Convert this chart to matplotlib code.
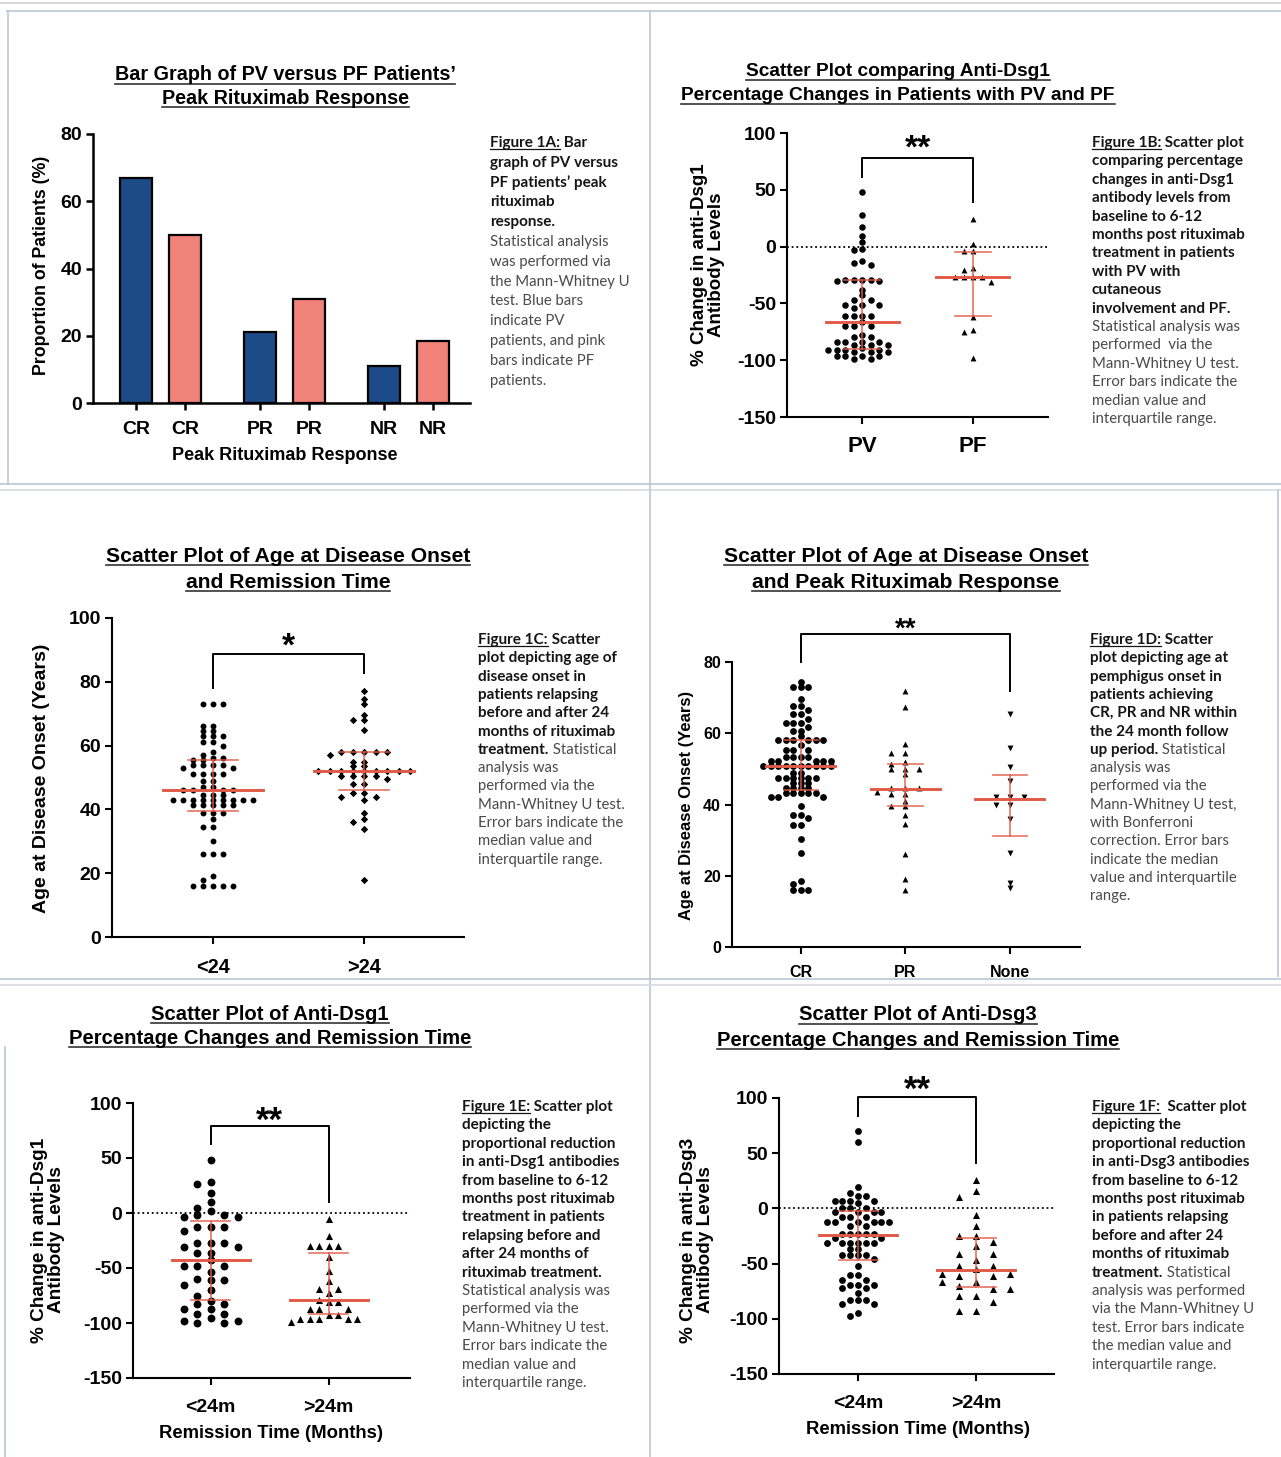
import numpy as np
import matplotlib
matplotlib.use('Agg')
import matplotlib.pyplot as plt
from matplotlib.lines import Line2D
from matplotlib import font_manager as fm

plt.rcParams['font.family'] = ['Liberation Sans', 'DejaVu Sans']
plt.rcParams['axes.unicode_minus'] = False

W, H = 1281, 1457

# ---------------- data ----------------
# 1A bar graph
resp_labels = ['CR', 'CR', 'PR', 'PR', 'NR', 'NR']
resp_pct = [67, 50, 21, 31, 11, 18.5]
resp_colors = ['#1d4b87', '#f08279', '#1d4b87', '#f08279', '#1d4b87', '#f08279']

# 1B anti-Dsg1 % change, PV vs PF
b_cats = ['PV', 'PF']
b_pv = [48, 28, 17, 9, 4, -2, -3, -13, -14, -16, -29, -29, -29, -29, -30, -30, -38, -43,
        -47, -47, -51, -51, -51, -54, -61, -61, -61, -61, -66, -70, -70, -70, -78, -80, -80,
        -84, -84, -84, -84, -87, -87, -87, -89, -91, -91, -91, -91, -93, -93, -93, -96, -96,
        -96, -96, -99, -99]
b_pf = [24, 2, -4, -4, -19, -21, -27, -27, -27, -27, -31, -62, -73, -75, -98]
b_med = [-66, -27]
b_q1 = [-90, -61]
b_q3 = [-29, -5]

# 1C age at onset vs remission time
c_cats = ['<24', '>24']
c_lt24 = [73, 73, 73, 66, 66, 64.5, 64.5, 63, 63, 63, 61, 61, 60, 58, 57, 56, 56, 55.5, 55.5,
          54, 54, 54, 54, 53, 53, 51, 51, 51, 51, 49, 49, 47, 47, 46, 46, 46, 46, 44.5, 44.5,
          44.5, 43, 43, 43, 43, 43, 43, 43, 43, 43, 41.5, 41.5, 41.5, 41.5, 41.5, 39, 39, 39,
          37, 34.5, 34.5, 30, 26, 26, 26, 19, 18, 16, 16, 16, 16, 16]
c_gt24 = [77, 74.5, 73, 69.5, 68, 68, 65, 58, 58, 58, 58, 58, 57, 55, 55, 53.5, 53.5, 52, 52,
          52, 52, 52, 52, 52, 52, 52, 50.5, 50.5, 50.5, 50.5, 49.5, 48, 48, 45, 45, 44, 44, 43,
          39, 37, 36, 34, 18]
c_med = [46, 52]
c_q1 = [39.5, 46]
c_q3 = [55.5, 58]

# 1D age at onset vs peak rituximab response
d_cats = ['CR', 'PR', 'None']
d_cr = [74.4, 73, 73, 73, 69.7, 67.6, 67.6, 66.4, 65.3, 65.3, 64.1, 62.9, 62.9, 62.9, 61.8,
        60.5, 60.5, 59.1, 58, 58, 58, 58, 58, 58, 56.6, 55.4, 55.4, 55.4, 53.3, 53.3, 53.3,
        53.3, 52.1, 52.1, 52.1, 52.1, 52.1, 50.7, 50.7, 50.7, 50.7, 50.7, 50.7, 50.7, 50.7,
        50.7, 50.7, 48.8, 48.8, 47.3, 47.3, 47.3, 47.3, 47.3, 47.3, 45.9, 45.9, 45.9, 44.5,
        44.5, 44.5, 44.5, 43.1, 43.1, 43.1, 43.1, 43.1, 42.1, 42.1, 42.1, 39.5, 37, 37, 36.1,
        34.2, 34.2, 30.4, 26.4, 18.5, 17.8, 15.9, 15.9, 15.9]
d_pr = [72, 67.5, 57, 54.5, 54.5, 52, 51.5, 50, 50, 50, 48.5, 44.5, 44.5, 44.5, 43.5, 43, 43,
        41, 39.5, 39.5, 37, 34.5, 26, 19, 16]
d_none = [65.5, 56, 50.5, 46.5, 42, 42, 42, 40, 40, 36, 26.5, 18, 16.5]
d_med = [50.7, 44.3, 41.6]
d_q1 = [44.2, 39.5, 31.2]
d_q3 = [58, 51.5, 48.3]

# 1E anti-Dsg1 % change vs remission time
e_cats = ['<24m', '>24m']
e_lt = [48, 28, 26, 18, 10, 5, 2, -2, -2, -4, -4, -13, -13, -13, -16, -27, -27, -27, -31, -31,
        -36, -36, -43, -48, -48, -48, -54, -60, -61, -61, -65, -70, -75, -80, -83, -83, -87,
        -87, -92, -92, -95, -98, -98, -100, -100]
e_gt = [-5, -21, -30, -30, -30, -30, -40, -53, -62, -69, -69, -73, -79, -81, -81, -87, -87,
        -87, -93, -93, -96, -96, -96, -96, -96, -99]
e_med = [-43, -79.5]
e_q1 = [-79, -92]
e_q3 = [-7.6, -36.6]

# 1F anti-Dsg3 % change vs remission time
f_cats = ['<24m', '>24m']
f_lt = [70.5, 60.5, 19, 14, 11, 11, 7, 7, 7, 7, 5, 0, 0, 0, -3, -3, -3, -3, -8, -8, -8, -12,
        -12, -12, -12, -12, -12, -16, -16, -23, -23, -23, -23, -23, -26.5, -26.5, -31, -31,
        -31, -31, -31, -31, -36.5, -36.5, -42.5, -42.5, -42.5, -42.5, -45.5, -52.5, -60.5,
        -60.5, -64.5, -64.5, -69, -69, -69, -72.5, -72.5, -77, -83, -83, -83, -87, -87, -95,
        -97.5]
f_gt = [26, 16, 10, -6, -16, -25, -25, -30, -34, -41, -41, -47, -52, -52, -55, -59, -59, -61,
        -61, -67, -67, -70, -73, -73, -79, -79, -85, -93, -93]
f_med = [-24, -56]
f_q1 = [-47, -71]
f_q3 = [-2, -27]

RED = '#e05a47'
FRAME = '#b9c8d6'

names = {f.name for f in fm.fontManager.ttflist}
CAP_FONT = ['Lato', 'DejaVu Sans'] if 'Lato' in names else ['DejaVu Sans']

fig = plt.figure(figsize=(W / 100, H / 100), dpi=100)
fig.patch.set_facecolor('white')
renderer = fig.canvas.get_renderer()


def make_ax(x0, x1, y0, y1):
    # pixel box: left, right, top, bottom
    return fig.add_axes([x0 / W, 1 - y1 / H, (x1 - x0) / W, (y1 - y0) / H])


def style_ax(ax, size, xsize, xpad, lw=1.5):
    ax.spines['top'].set_visible(False)
    ax.spines['right'].set_visible(False)
    ax.spines['left'].set_linewidth(lw)
    ax.spines['bottom'].set_linewidth(lw)
    ax.tick_params(width=lw, length=5, labelsize=size, pad=3)
    ax.tick_params(axis='x', labelsize=xsize, pad=xpad)
    plt.setp(ax.get_xticklabels() + ax.get_yticklabels(), fontweight='bold')
    ax.patch.set_alpha(0)


def underline_text(x, y, s, size, ha='center'):
    t = fig.text(x / W, 1 - y / H, s, ha=ha, va='center', fontsize=size, fontweight='bold')
    bb = t.get_window_extent(renderer)
    fig.add_artist(Line2D([bb.x0 / W, bb.x1 / W], [(bb.y0 + 1) / H] * 2, color='#333', lw=1.2))
    return t


def title(x, y1, y2, l1, l2, size):
    underline_text(x, y1, l1, size)
    underline_text(x, y2, l2, size)


def caption(x, y0, dy, lines, bsize=11.0, nsize=10.7):
    for i, segs in enumerate(lines):
        cx = x
        y = y0 + i * dy
        for s, st in segs:
            t = fig.text(cx / W, 1 - y / H, s, ha='left', va='center',
                         fontsize=nsize if st == 'n' else bsize,
                         family=CAP_FONT, fontweight='normal' if st == 'n' else 'bold',
                         color='#4a4a4a' if st == 'n' else '#151515')
            bb = t.get_window_extent(renderer)
            if st == 'u':
                fig.add_artist(Line2D([bb.x0 / W, bb.x1 / W], [(bb.y0 + 1.5) / H] * 2,
                                      color='#151515', lw=0.9))
            cx = cx + bb.width


def swarm_x(ax, xc, vals, gx, gy):
    vals = np.asarray(vals, float)
    ypx = ax.transData.transform(np.column_stack([np.zeros(len(vals)), vals]))[:, 1]
    ppu = ax.transData.transform((1, 0))[0] - ax.transData.transform((0, 0))[0]
    cands = sorted(np.arange(-14, 15) * gx / 2, key=lambda v: (abs(v), v))
    placed = []
    offs = np.zeros(len(vals))
    for i in np.argsort(-ypx, kind='stable'):
        for c in cands:
            if all(abs(c - px) >= gx - 1e-6 or abs(ypx[i] - py) >= gy for px, py in placed):
                break
        placed.append((c, ypx[i]))
        offs[i] = c
    return xc + offs / ppu


def points(ax, xc, vals, gx, gy, marker, s):
    xs = swarm_x(ax, xc, vals, gx, gy)
    ax.scatter(xs, vals, s=s, marker=marker, c='black', linewidths=0, zorder=3)


def iqr(ax, xs, med, q1, q3):
    for x, m, a, b in zip(xs, med, q1, q3):
        ax.plot([x - 0.33, x + 0.33], [m, m], color=RED, lw=2.1, zorder=5)
        ax.plot([x - 0.165, x + 0.165], [a, a], color=RED, lw=1.2, zorder=5, alpha=0.85)
        ax.plot([x - 0.165, x + 0.165], [b, b], color=RED, lw=1.2, zorder=5, alpha=0.85)
        ax.plot([x, x], [a, b], color=RED, lw=1.2, zorder=5, alpha=0.85)


def bracket(ax, x0, x1, top, lend, rend, star, starc, size):
    ax.plot([x0, x0, x1, x1], [lend, top, top, rend], color='black', lw=1.4, clip_on=False)
    # place the asterisks so that their visual centre sits at starc
    ppu = ax.transData.transform((0, 1))[1] - ax.transData.transform((0, 0))[1]
    base = starc - 0.57 * size * 100 / 72 / ppu
    ax.text((x0 + x1) / 2, base, star, ha='center', va='baseline', fontsize=size,
            fontweight='bold', clip_on=False)


def zero_line(ax):
    ax.axhline(0, color='black', lw=1.3, ls=(0, (1, 1.6)), zorder=1)


def label(x, y, s, size, rot=0):
    fig.text(x / W, 1 - y / H, s, ha='center', va='center', rotation=rot, fontsize=size,
             fontweight='bold', linespacing=1.05)


# ---------------- panel frames ----------------
def hline(y, x0, x1, c=FRAME, lw=1.2):
    fig.add_artist(Line2D([x0 / W, x1 / W], [1 - y / H] * 2, color=c, lw=lw))


def vline(x, y0, y1, c=FRAME, lw=1.2):
    fig.add_artist(Line2D([x / W] * 2, [1 - y0 / H, 1 - y1 / H], color=c, lw=lw))


hline(3, 0, W, c='#cfcfcf')
hline(11, 7, W)
vline(8, 11, 484)
hline(484, 0, W)
hline(490, 0, W, c='#d4dbe2')
vline(650, 11, H)
vline(1278, 490, 976)
hline(979, 0, W)
hline(985, 0, W, c='#d4dbe2')
vline(5, 1047, H)

# ---------------- 1A ----------------
ax = make_ax(93, 470, 134, 403)
bx = [(i // 2) * 2.53 + (i % 2) for i in range(len(resp_pct))]
ax.bar(bx, resp_pct, width=0.65, color=resp_colors, edgecolor='black', linewidth=1.6, zorder=2)
ax.set_xlim(-0.88, 6.82)
ax.set_ylim(0, 80)
ax.set_yticks([0, 20, 40, 60, 80])
ax.set_xticks(bx)
ax.set_xticklabels(resp_labels)
style_ax(ax, 14, 14, 8, lw=1.8)
title(285, 75, 98, 'Bar Graph of PV versus PF Patients\u2019', 'Peak Rituximab Response', 14.2)
label(285, 455, 'Peak Rituximab Response', 13)
label(42, 265, 'Proportion of Patients (%)', 12.8, rot=90)
caption(490, 143, 19.8, [
    [('Figure 1A:', 'u'), (' Bar', 'b')],
    [('graph of PV versus', 'b')],
    [('PF patients\u2019 peak', 'b')],
    [('rituximab', 'b')],
    [('response.', 'b')],
    [('Statistical analysis', 'n')],
    [('was performed via', 'n')],
    [('the Mann-Whitney U', 'n')],
    [('test. Blue bars', 'n')],
    [('indicate PV', 'n')],
    [('patients, and pink', 'n')],
    [('bars indicate PF', 'n')],
    [('patients.', 'n')],
])

# ---------------- 1B ----------------
ax = make_ax(787, 1048, 133, 417)
ax.set_xlim(-0.68, 1.68)
ax.set_ylim(-150, 100)
ax.set_yticks([-150, -100, -50, 0, 50, 100])
ax.set_xticks([0, 1])
ax.set_xticklabels(b_cats)
style_ax(ax, 14, 16, 9)
zero_line(ax)
points(ax, 0, b_pv, 8.5, 5.5, 'o', 22)
points(ax, 1, b_pf, 9, 6, '^', 18)
iqr(ax, [0, 1], b_med, b_q1, b_q3)
bracket(ax, 0, 1, 78, 61, 39, '**', 95, 24)
title(898, 72, 96, 'Scatter Plot comparing Anti-Dsg1',
      'Percentage Changes in Patients with PV and PF', 13.8)
label(708, 265, '% Change in anti-Dsg1\nAntibody Levels', 13.5, rot=90)
caption(1092, 143, 18.4, [
    [('Figure 1B:', 'u'), (' Scatter plot', 'b')],
    [('comparing percentage', 'b')],
    [('changes in anti-Dsg1', 'b')],
    [('antibody levels from', 'b')],
    [('baseline to 6-12', 'b')],
    [('months post rituximab', 'b')],
    [('treatment in patients', 'b')],
    [('with PV with', 'b')],
    [('cutaneous', 'b')],
    [('involvement and PF.', 'b')],
    [('Statistical analysis was', 'n')],
    [('performed  via the', 'n')],
    [('Mann-Whitney U test.', 'n')],
    [('Error bars indicate the', 'n')],
    [('median value and', 'n')],
    [('interquartile range.', 'n')],
])

# ---------------- 1C ----------------
ax = make_ax(112, 464, 618, 937)
ax.set_xlim(-0.67, 1.66)
ax.set_ylim(0, 100)
ax.set_yticks([0, 20, 40, 60, 80, 100])
ax.set_xticks([0, 1])
ax.set_xticklabels(c_cats)
style_ax(ax, 14, 14.3, 10)
points(ax, 0, c_lt24, 10, 4.6, 'o', 18)
points(ax, 1, c_gt24, 11.5, 4.5, 'D', 14)
iqr(ax, [0, 1], c_med, c_q1, c_q3)
bracket(ax, 0, 1, 88.6, 78, 82.8, '*', 94.3, 24)
title(288, 557, 582, 'Scatter Plot of Age at Disease Onset', 'and Remission Time', 15.2)
label(42, 778, 'Age at Disease Onset (Years)', 14, rot=90)
caption(478, 640, 18.3, [
    [('Figure 1C:', 'u'), (' Scatter', 'b')],
    [('plot depicting age of', 'b')],
    [('disease onset in', 'b')],
    [('patients relapsing', 'b')],
    [('before and after 24', 'b')],
    [('months of rituximab', 'b')],
    [('treatment.', 'b'), (' Statistical', 'n')],
    [('analysis was', 'n')],
    [('performed via the', 'n')],
    [('Mann-Whitney U test.', 'n')],
    [('Error bars indicate the', 'n')],
    [('median value and', 'n')],
    [('interquartile range.', 'n')],
])

# ---------------- 1D ----------------
ax = make_ax(732, 1080, 662, 947)
ax.set_xlim(-0.66, 2.67)
ax.set_ylim(0, 80)
ax.set_yticks([0, 20, 40, 60, 80])
ax.set_xticks([0, 1, 2])
ax.set_xticklabels(d_cats)
style_ax(ax, 11.5, 11.5, 8)
points(ax, 0, d_cr, 7.5, 4.6, 'o', 24)
points(ax, 1, d_pr, 14, 5.2, '^', 18)
points(ax, 2, d_none, 14, 5.2, 'v', 18)
iqr(ax, [0, 1, 2], d_med, d_q1, d_q3)
bracket(ax, 0, 2, 88, 80, 72, '**', 91.7, 20)
title(906, 557, 582, 'Scatter Plot of Age at Disease Onset', 'and Peak Rituximab Response', 15.2)
label(686, 805, 'Age at Disease Onset (Years)', 11.9, rot=90)
caption(1090, 640, 18.3, [
    [('Figure 1D:', 'u'), (' Scatter', 'b')],
    [('plot depicting age at', 'b')],
    [('pemphigus onset in', 'b')],
    [('patients achieving', 'b')],
    [('CR, PR and NR within', 'b')],
    [('the 24 month follow', 'b')],
    [('up period.', 'b'), (' Statistical', 'n')],
    [('analysis was', 'n')],
    [('performed via the', 'n')],
    [('Mann-Whitney U test,', 'n')],
    [('with Bonferroni', 'n')],
    [('correction. Error bars', 'n')],
    [('indicate the median', 'n')],
    [('value and interquartile', 'n')],
    [('range.', 'n')],
])

# ---------------- 1E ----------------
ax = make_ax(133, 410, 1103, 1378)
ax.set_xlim(-0.66, 1.69)
ax.set_ylim(-150, 100)
ax.set_yticks([-150, -100, -50, 0, 50, 100])
ax.set_xticks([0, 1])
ax.set_xticklabels(e_cats)
style_ax(ax, 14, 14, 10)
zero_line(ax)
points(ax, 0, e_lt, 13.5, 7, 'o', 32)
points(ax, 1, e_gt, 9.5, 8, '^', 26)
iqr(ax, [0, 1], e_med, e_q1, e_q3)
bracket(ax, 0, 1, 78.8, 62.9, 10, '**', 93, 25)
title(270, 1014, 1038, 'Scatter Plot of Anti-Dsg1', 'Percentage Changes and Remission Time', 14.6)
label(271, 1434, 'Remission Time (Months)', 13.3)
label(48, 1240, '% Change in anti-Dsg1\nAntibody Levels', 13.7, rot=90)
caption(462, 1107, 18.4, [
    [('Figure 1E:', 'u'), (' Scatter plot', 'b')],
    [('depicting the', 'b')],
    [('proportional reduction', 'b')],
    [('in anti-Dsg1 antibodies', 'b')],
    [('from baseline to 6-12', 'b')],
    [('months post rituximab', 'b')],
    [('treatment in patients', 'b')],
    [('relapsing before and', 'b')],
    [('after 24 months of', 'b')],
    [('rituximab treatment.', 'b')],
    [('Statistical analysis was', 'n')],
    [('performed via the', 'n')],
    [('Mann-Whitney U test.', 'n')],
    [('Error bars indicate the', 'n')],
    [('median value and', 'n')],
    [('interquartile range.', 'n')],
])

# ---------------- 1F ----------------
ax = make_ax(779, 1054, 1098, 1374)
ax.set_xlim(-0.67, 1.66)
ax.set_ylim(-150, 100)
ax.set_yticks([-150, -100, -50, 0, 50, 100])
ax.set_xticks([0, 1])
ax.set_xticklabels(f_cats)
style_ax(ax, 14, 14, 10)
zero_line(ax)
points(ax, 0, f_lt, 7.8, 5.6, 'o', 24)
points(ax, 1, f_gt, 17, 8, '^', 26)
iqr(ax, [0, 1], f_med, f_q1, f_q3)
bracket(ax, 0, 1, 100.7, 84, 41, '**', 116, 25)
title(918, 1015, 1040, 'Scatter Plot of Anti-Dsg3', 'Percentage Changes and Remission Time', 14.6)
label(918, 1430, 'Remission Time (Months)', 13.3)
label(697, 1240, '% Change in anti-Dsg3\nAntibody Levels', 13.7, rot=90)
caption(1092, 1107, 18.4, [
    [('Figure 1F:', 'u'), ('  Scatter plot', 'b')],
    [('depicting the', 'b')],
    [('proportional reduction', 'b')],
    [('in anti-Dsg3 antibodies', 'b')],
    [('from baseline to 6-12', 'b')],
    [('months post rituximab', 'b')],
    [('in patients relapsing', 'b')],
    [('before and after 24', 'b')],
    [('months of rituximab', 'b')],
    [('treatment.', 'b'), (' Statistical', 'n')],
    [('analysis was performed', 'n')],
    [('via the Mann-Whitney U', 'n')],
    [('test. Error bars indicate', 'n')],
    [('the median value and', 'n')],
    [('interquartile range.', 'n')],
])

fig.savefig('out.png', dpi=100)
